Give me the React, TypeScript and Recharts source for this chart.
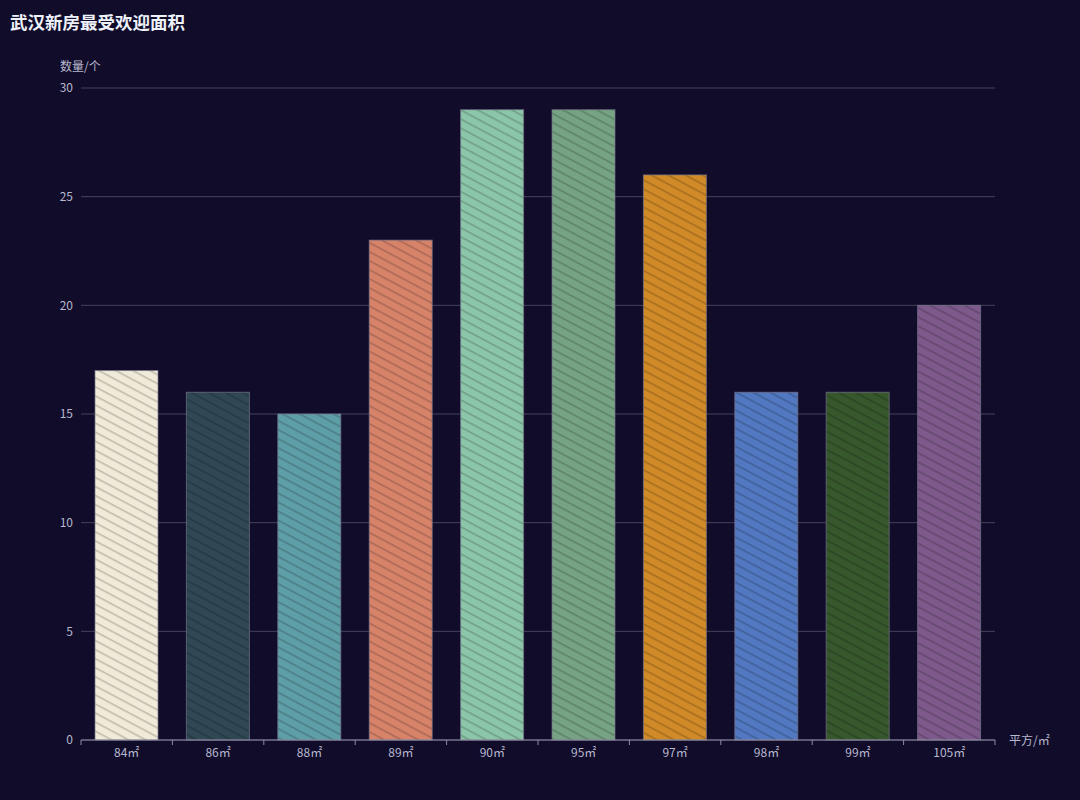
import React from 'react';
import { BarChart, Bar, XAxis, YAxis, CartesianGrid, Cell } from 'recharts';

const categories = ['84㎡', '86㎡', '88㎡', '89㎡', '90㎡', '95㎡', '97㎡', '98㎡', '99㎡', '105㎡'];
const counts = [17, 16, 15, 23, 29, 29, 26, 16, 16, 20];
const colors = ['#f0ead8', '#2f4854', '#5e9ea6', '#d6836a', '#8cc6a8', '#76a383', '#d08a27', '#5178c0', '#37572d', '#7d5a8b'];
const yTicks = [0, 5, 10, 15, 20, 25, 30];

const data = categories.map((name, i) => ({ name, value: counts[i] }));

const FONT = '"Noto Sans CJK SC", "Noto Sans", sans-serif';
const TEXT = '#b9b8ce';

const HatchBar = (props: any) => {
  const { x, y, width, height, fill } = props;
  if (!height || height <= 0) return null;
  return (
    <g>
      <rect x={x} y={y} width={width} height={height} fill={fill} />
      <rect x={x} y={y} width={width} height={height} fill="url(#hatch)" stroke="rgba(120,118,140,0.7)" strokeWidth={1} />
    </g>
  );
};

const XTick = (props: any) => {
  const { x, y, payload, index, visibleTicksCount } = props;
  const half = payload && payload.offset ? payload.offset : 45.7;
  return (
    <g>
      <line x1={x - half} y1={y - 8} x2={x - half} y2={y - 3} stroke="#8e8ca3" strokeWidth={1} />
      {index === visibleTicksCount - 1 && (
        <line x1={x + half} y1={y - 8} x2={x + half} y2={y - 3} stroke="#8e8ca3" strokeWidth={1} />
      )}
      <text x={x} y={y + 9} textAnchor="middle" fill={TEXT} fontSize={12} fontFamily={FONT}>
        {payload.value}
      </text>
    </g>
  );
};

export default function App() {
  return (
    <div style={{ position: 'absolute', left: 0, top: 0, width: 1080, height: 800, background: '#100c2a', fontFamily: FONT }}>
      <div style={{ position: 'absolute', left: 10, top: 10, color: '#eef1fa', fontSize: 17.5, fontWeight: 'bold', fontFamily: FONT, lineHeight: '24px' }}>
        武汉新房最受欢迎面积
      </div>
      <div style={{ position: 'absolute', left: 60, top: 57, color: TEXT, fontSize: 12, fontFamily: FONT, lineHeight: '18px' }}>
        数量/个
      </div>
      <div style={{ position: 'absolute', left: 1009, top: 731, color: TEXT, fontSize: 12, fontFamily: FONT, lineHeight: '18px' }}>
        平方/㎡
      </div>
      <BarChart width={1080} height={800} data={data} margin={{ top: 88, right: 85, bottom: 0, left: 0 }}>
        <defs>
          <pattern id="hatch" width="8" height="8" patternUnits="userSpaceOnUse" patternTransform="rotate(28)">
            <rect x="0" y="0" width="8" height="1.6" fill="rgba(0,0,0,0.2)" />
          </pattern>
        </defs>
        <CartesianGrid vertical={false} stroke="#45435a" strokeWidth={1} />
        <XAxis
          dataKey="name"
          height={60}
          tickLine={false}
          axisLine={{ stroke: '#8e8ca3' }}
          tick={<XTick />}
          interval={0}
        />
        <YAxis
          width={81}
          domain={[0, 30]}
          ticks={yTicks}
          axisLine={false}
          tickLine={false}
          tick={{ fill: TEXT, fontSize: 12, fontFamily: FONT }}
        />
        <Bar dataKey="value" barSize={63} isAnimationActive={false} shape={<HatchBar />}>
          {data.map((d, i) => (
            <Cell key={d.name} fill={colors[i]} />
          ))}
        </Bar>
      </BarChart>
    </div>
  );
}
